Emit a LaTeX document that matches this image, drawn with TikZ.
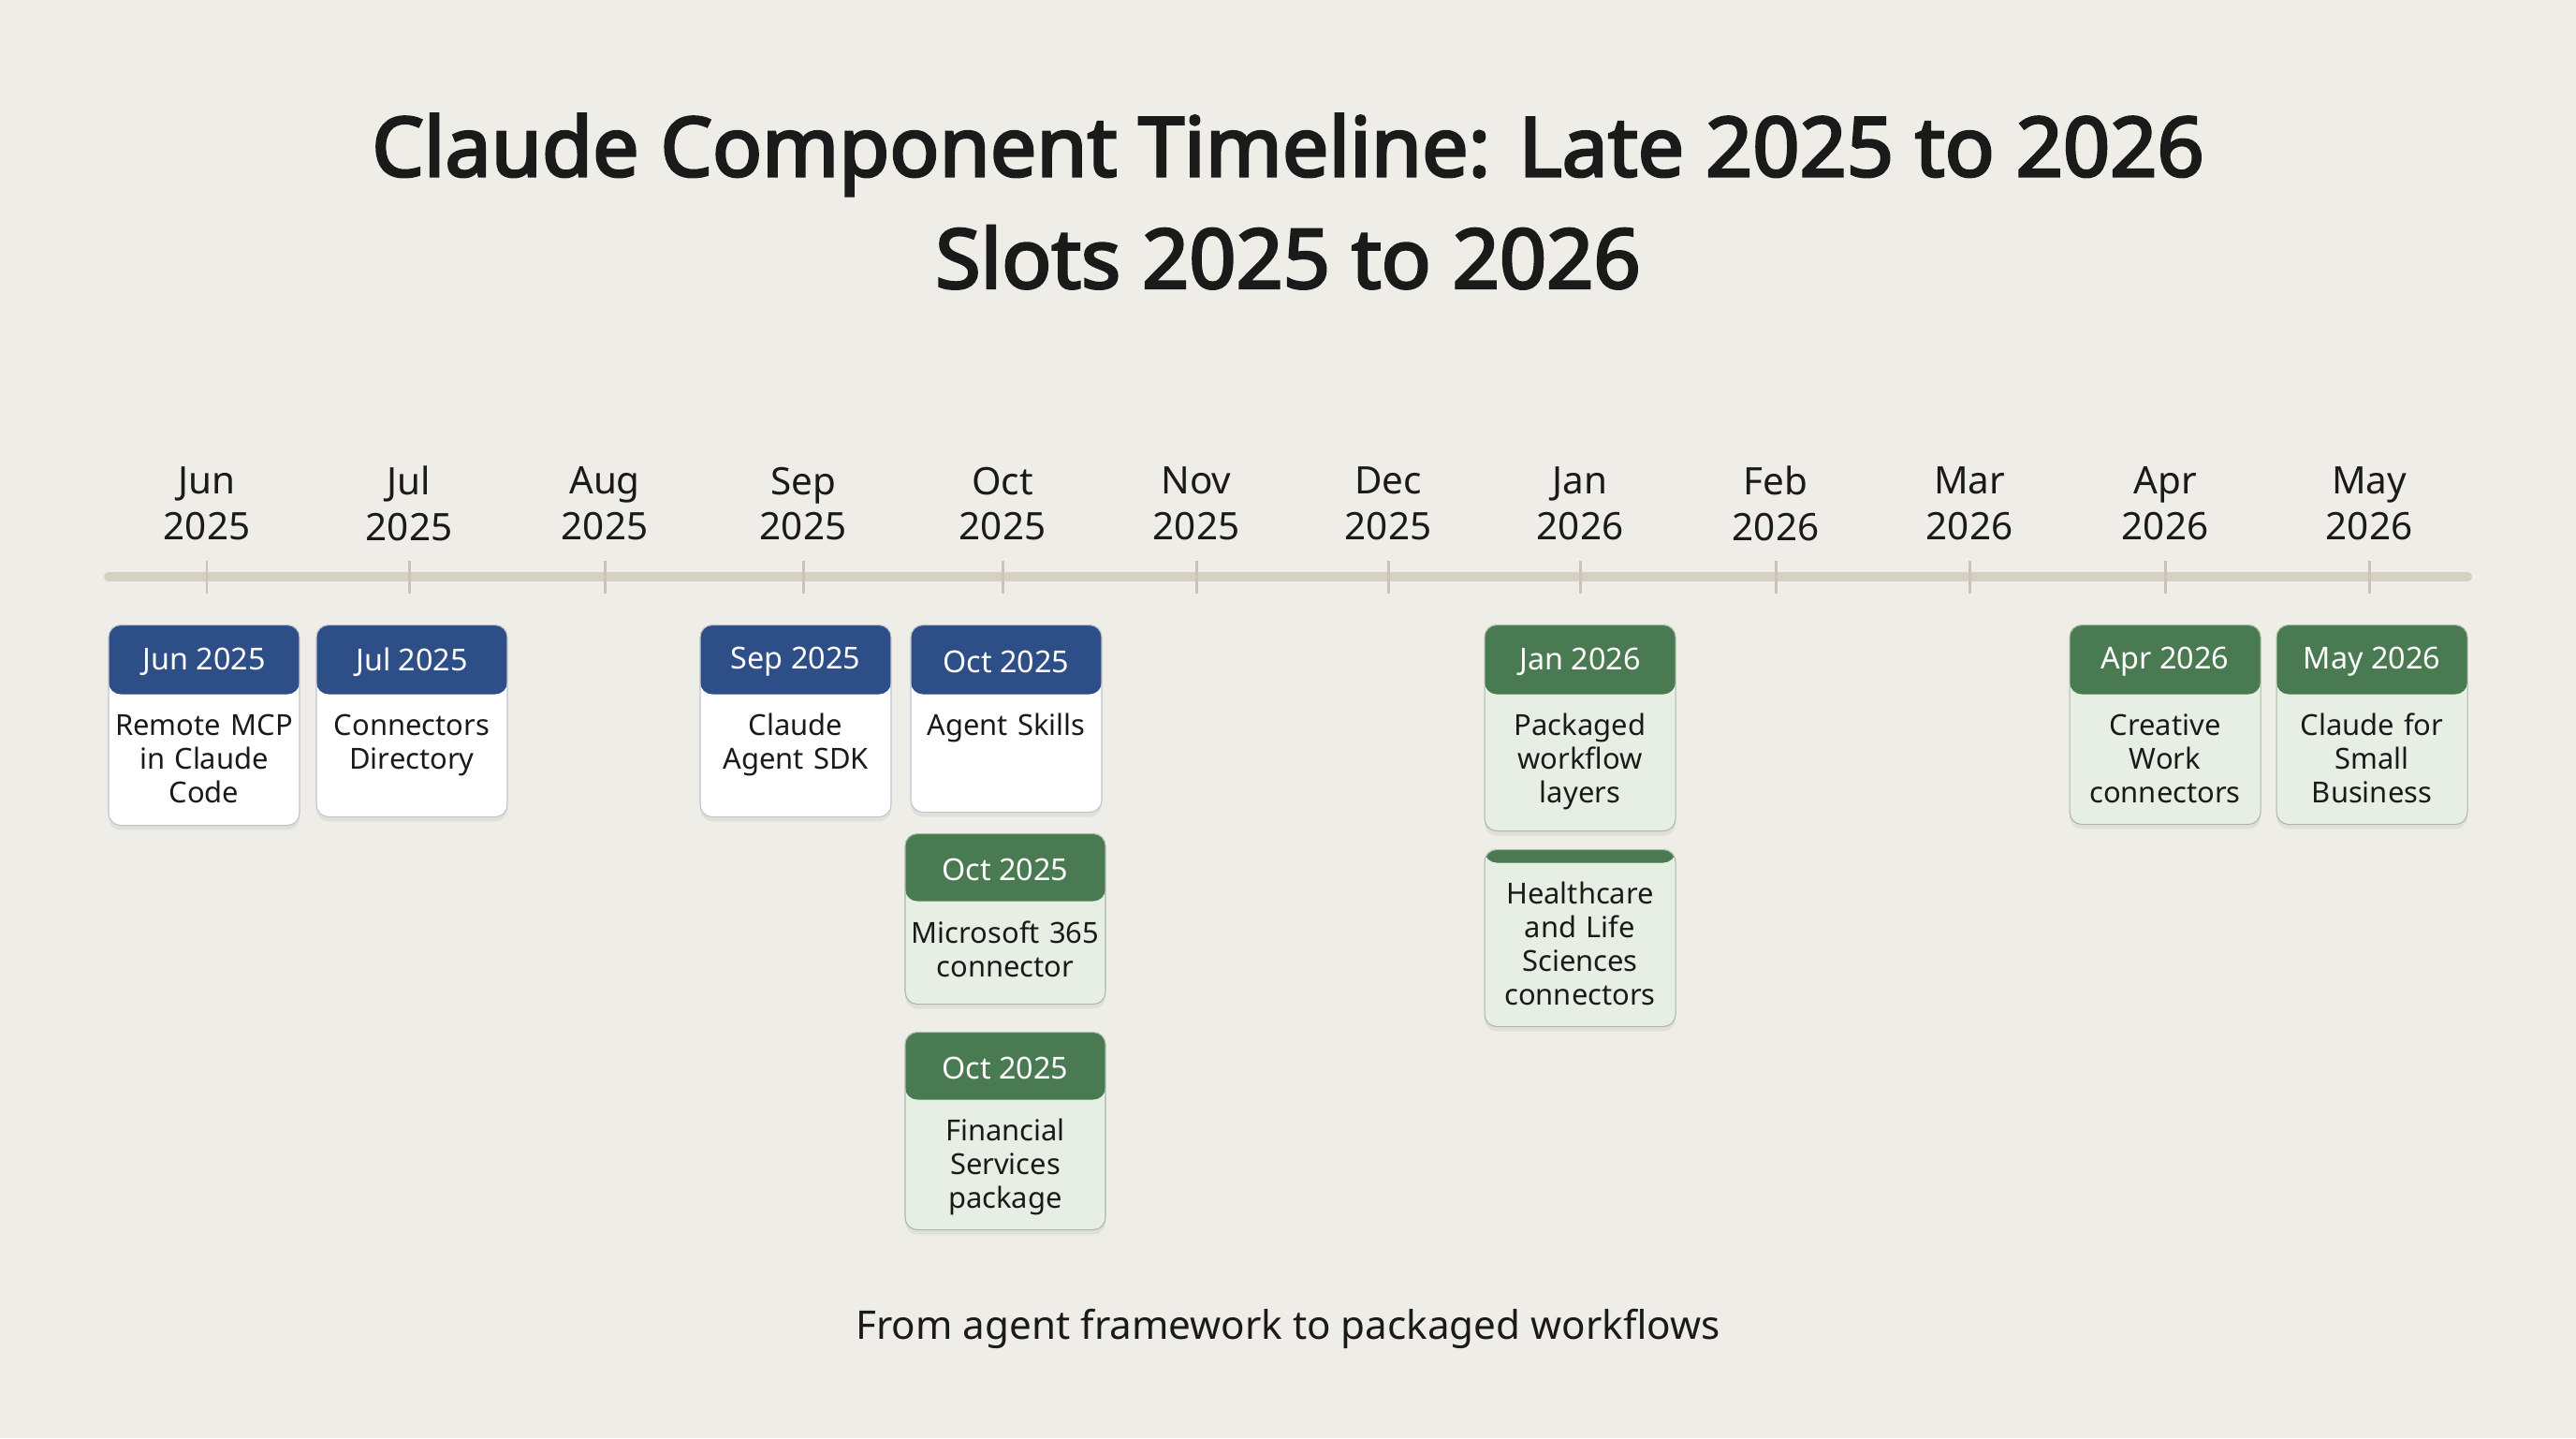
\documentclass[tikz,border=0pt]{standalone}
\usepackage{fontspec}
\setmainfont{Noto Sans}
\newfontfamily\titlefont{Noto Sans}[FakeBold=3.2]
\usetikzlibrary{shadows}

\definecolor{bg}{HTML}{EFEDE7}
\definecolor{axis}{HTML}{D6D0C4}
\definecolor{tickc}{HTML}{CBC4B6}
\definecolor{ink}{HTML}{1A1A1A}
\definecolor{bluehd}{HTML}{2D4E86}
\definecolor{blueline}{HTML}{BFC3CB}
\definecolor{greenhd}{HTML}{4A7A51}
\definecolor{greenbd}{HTML}{E7EFE4}
\definecolor{greenline}{HTML}{A8B9A5}

\tikzset{
  card/.style={rectangle, rounded corners=0.13cm, line width=0.3pt, anchor=north,
    minimum width=2.04cm, text width=1.96cm, inner xsep=0.04cm, inner ysep=0.1cm,
    align=center, text=ink, font=\fontsize{8.8}{10.2}\selectfont,
    text height=1.08cm, text depth=0.85cm,
    drop shadow={shadow xshift=0cm, shadow yshift=-0.05cm, opacity=0.12}},
  bluecard/.style={card, draw=blueline, fill=white,
    path picture={\fill[bluehd] (path picture bounding box.north west)
      rectangle ([yshift=-#1]path picture bounding box.north east);}},
  bluecard/.default=0.74cm,
  greencard/.style={card, draw=greenline, fill=greenbd,
    path picture={\fill[greenhd] (path picture bounding box.north west)
      rectangle ([yshift=-#1]path picture bounding box.north east);}},
  greencard/.default=0.74cm,
  hdr/.style={text=white, font=\fontsize{9.2}{11}\selectfont},
  month/.style={align=center, text=ink, font=\fontsize{11.5}{13.9}\selectfont},
}

\begin{document}
\begin{tikzpicture}
  \fill[bg] (0,0) rectangle (27.52,-15.36);
  \useasboundingbox (0,0) rectangle (27.52,-15.36);

  % Title
  \node[align=center, text=ink, font=\fontsize{25}{34}\titlefont] (title) at (13.76,-2.15)
    {Claude Component Timeline: Late 2025 to 2026\\Slots 2025 to 2026};

  % Axis
  \coordinate (tl-start) at (1.16,-6.16);
  \coordinate (tl-end) at (26.36,-6.16);
  \draw[axis, line width=2.8pt, line cap=round] (tl-start) -- (tl-end);
  \foreach \x/\m/\yr in {2.21/Jun/2025, 4.37/Jul/2025, 6.46/Aug/2025, 8.58/Sep/2025,
      10.71/Oct/2025, 12.78/Nov/2025, 14.83/Dec/2025, 16.88/Jan/2026,
      18.97/Feb/2026, 21.04/Mar/2026, 23.13/Apr/2026, 25.31/May/2026} {
    \draw[tickc, line width=0.85pt] (\x,-5.99) -- (\x,-6.34);
    \node[month] (m-\m) at (\x,-5.38) {\m\\\yr};
  }

  % Cards
  \node[bluecard, text depth=0.86cm] (jun) at (2.18,-6.67) {Remote MCP\\in Claude\\Code};
  \node[hdr] (jun-d) at ([yshift=-0.40cm]jun.north) {Jun 2025};
  \node[bluecard, text depth=0.77cm] (jul) at (4.40,-6.67) {Connectors\\Directory};
  \node[hdr] (jul-d) at ([yshift=-0.40cm]jul.north) {Jul 2025};
  \node[bluecard, text depth=0.77cm] (sep) at (8.50,-6.67) {Claude\\Agent SDK};
  \node[hdr] (sep-d) at ([yshift=-0.40cm]sep.north) {Sep 2025};
  \node[bluecard, text depth=0.72cm] (oct-a) at (10.75,-6.67) {Agent Skills};
  \node[hdr] (oct-a-d) at ([yshift=-0.40cm]oct-a.north) {Oct 2025};

  \node[greencard=0.72cm, minimum width=2.14cm, text width=2.06cm, text height=1.07cm, text depth=0.55cm]
    (oct-b) at (10.74,-8.90) {Microsoft 365\\connector};
  \node[hdr] (oct-b-d) at ([yshift=-0.39cm]oct-b.north) {Oct 2025};
  \node[greencard=0.72cm, minimum width=2.14cm, text width=2.06cm, text height=1.06cm, text depth=0.85cm]
    (oct-c) at (10.74,-11.02) {Financial\\Services\\package};
  \node[hdr] (oct-c-d) at ([yshift=-0.39cm]oct-c.north) {Oct 2025};

  \node[greencard, text depth=0.92cm] (jan) at (16.88,-6.67) {Packaged\\workflow\\layers};
  \node[hdr] (jan-d) at ([yshift=-0.40cm]jan.north) {Jan 2026};
  \node[greencard=0.14cm, text height=0.48cm, text depth=1.21cm] (hls) at (16.88,-9.07)
    {Healthcare\\and Life\\Sciences\\connectors};

  \node[greencard] (apr) at (23.13,-6.67) {Creative\\Work\\connectors};
  \node[hdr] (apr-d) at ([yshift=-0.40cm]apr.north) {Apr 2026};
  \node[greencard] (may) at (25.34,-6.67) {Claude for\\Small\\Business};
  \node[hdr] (may-d) at ([yshift=-0.40cm]may.north) {May 2026};

  % Footer
  \node[anchor=base, text=ink, font=\fontsize{12}{14}\selectfont] (footer) at (13.76,-14.30)
    {From agent framework to packaged workflows};
\end{tikzpicture}
\end{document}
